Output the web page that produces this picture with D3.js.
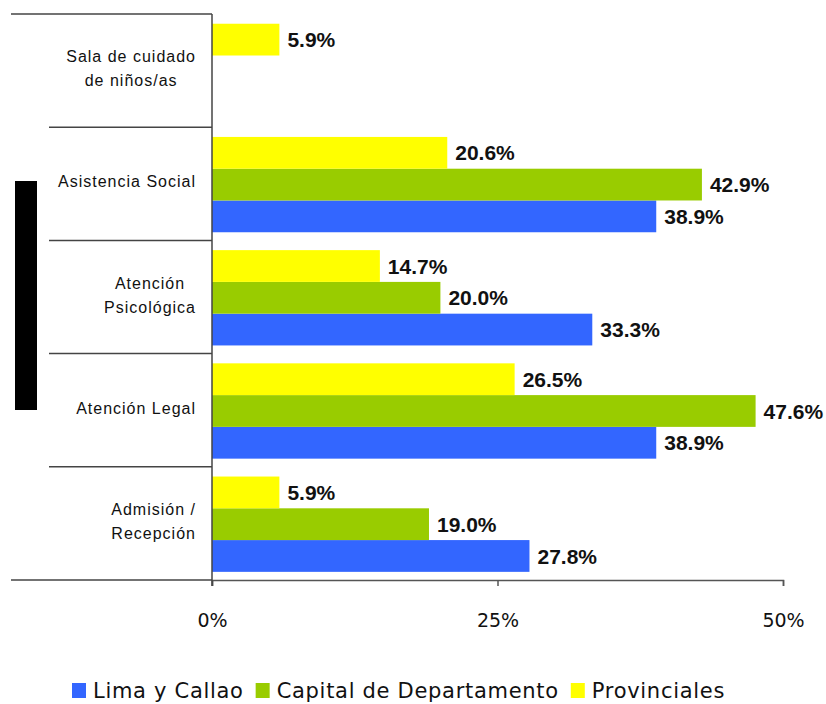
<!DOCTYPE html>
<html>
<head>
<meta charset="utf-8">
<script src="https://cdn.jsdelivr.net/npm/d3@7"></script>
<style>
  body { margin: 0; background: #fff; }
  svg { display: block; }
  .cat { font-family: "Liberation Sans", Arial, sans-serif; font-size: 16px; letter-spacing: 1px; fill: #111; }
  .val { font-family: "Liberation Sans", Arial, sans-serif; font-size: 21px; font-weight: bold; fill: #111; }
  .tick-label { font-family: "DejaVu Sans", sans-serif; font-size: 19px; fill: #111; }
  .legend { font-family: "DejaVu Sans", sans-serif; font-size: 21px; letter-spacing: 0.7px; fill: #111; }
</style>
</head>
<body>
<svg id="chart" width="826" height="704"></svg>
<script>
// Service areas, listed top to bottom
const categories = [
  ["Sala de cuidado", "de niños/as"],
  ["Asistencia Social"],
  ["Atención", "Psicológica"],
  ["Atención Legal"],
  ["Admisión /", "Recepción"]
];
// Share of respondents (%) per area; null = no bar
const limaCallao    = [null, 38.9, 33.3, 38.9, 27.8];
const capitalDepto  = [null, 42.9, 20.0, 47.6, 19.0];
const provinciales  = [5.9, 20.6, 14.7, 26.5, 5.9];

const seriesNames  = ["Lima y Callao", "Capital de Departamento", "Provinciales"];
const seriesColors = ["#3366FF", "#99CC00", "#FFFF00"];
const xTicks = [0, 25, 50];

const series = [
  { name: seriesNames[0], color: seriesColors[0], values: limaCallao },
  { name: seriesNames[1], color: seriesColors[1], values: capitalDepto },
  { name: seriesNames[2], color: seriesColors[2], values: provinciales }
];

const svg = d3.select("#chart");
const catKeys = categories.map(c => c.join(" "));

const x = d3.scaleLinear().domain([0, 50]).range([212, 783]);
const y = d3.scaleBand().domain(catKeys).range([14, 580]).padding(0);
const bw = y.bandwidth();
// Within each area: Provinciales on top, then Capital, then Lima
const y1 = d3.scaleBand()
  .domain([seriesNames[2], seriesNames[1], seriesNames[0]])
  .range([bw * 0.086, bw * 0.928]).padding(0);

// Category separators on the left side
const bounds = catKeys.map(k => y(k)).concat([y.range()[1]]);
svg.append("g").selectAll("line").data(bounds).join("line")
  .attr("x1", (d, i) => (i === 0 || i === bounds.length - 1) ? 11 : 49)
  .attr("x2", x(0))
  .attr("y1", d => d).attr("y2", d => d)
  .attr("stroke", "#444").attr("stroke-width", 1.5);

// Bars
const groups = svg.append("g").selectAll("g").data(series).join("g")
  .attr("fill", d => d.color);
groups.selectAll("rect")
  .data(s => s.values.map((v, i) => ({ v, cat: catKeys[i], name: s.name })).filter(d => d.v != null))
  .join("rect")
  .attr("x", x(0))
  .attr("y", d => y(d.cat) + y1(d.name))
  .attr("width", d => x(d.v) - x(0))
  .attr("height", y1.bandwidth());

// Value labels
groups.selectAll("text")
  .data(s => s.values.map((v, i) => ({ v, cat: catKeys[i], name: s.name })).filter(d => d.v != null))
  .join("text")
  .attr("class", "val")
  .attr("x", d => x(d.v) + 8)
  .attr("y", d => y(d.cat) + y1(d.name) + y1.bandwidth() / 2)
  .attr("dy", "0.36em")
  .text(d => d3.format(".1f")(d.v) + "%");

// X axis
const xAxis = svg.append("g").attr("transform", "translate(0,580)")
  .call(d3.axisBottom(x).tickValues(xTicks).tickSize(6).tickFormat(d => d + "%"));
xAxis.select(".domain").attr("stroke", "#555").attr("stroke-width", 1.5);
xAxis.selectAll(".tick line").attr("stroke", "#555").attr("stroke-width", 1.5);
xAxis.selectAll(".tick text").attr("class", "tick-label").attr("y", 34)
  .attr("font-family", null).attr("font-size", null).attr("fill", null);

// Vertical axis line
svg.append("line")
  .attr("x1", x(0)).attr("x2", x(0))
  .attr("y1", 14).attr("y2", 586)
  .attr("stroke", "#444").attr("stroke-width", 1.5);

// Category labels, each block centered with its widest line ending at x=196
const lineH = 24;
categories.forEach((lines, i) => {
  const cy = y(catKeys[i]) + bw / 2 - 2;
  const g = svg.append("g");
  const texts = lines.map((ln, j) => g.append("text")
    .attr("class", "cat")
    .attr("text-anchor", "middle")
    .attr("y", cy + (j - (lines.length - 1) / 2) * lineH)
    .attr("dy", "0.35em")
    .text(ln));
  const maxW = d3.max(texts, t => t.node().getComputedTextLength());
  texts.forEach(t => t.attr("x", 196 - maxW / 2));
});

// Black block on the left
svg.append("rect").attr("x", 15).attr("y", 181).attr("width", 22).attr("height", 229).attr("fill", "#000");

// Legend
const legend = svg.append("g").attr("transform", "translate(0,691)");
let lx = 72;
series.forEach(s => {
  legend.append("rect").attr("x", lx).attr("y", -8).attr("width", 14).attr("height", 15).attr("fill", s.color);
  const t = legend.append("text").attr("class", "legend").attr("x", lx + 21).attr("dy", "0.35em").text(s.name);
  lx += 21 + t.node().getComputedTextLength() + 12;
});
</script>
</body>
</html>
